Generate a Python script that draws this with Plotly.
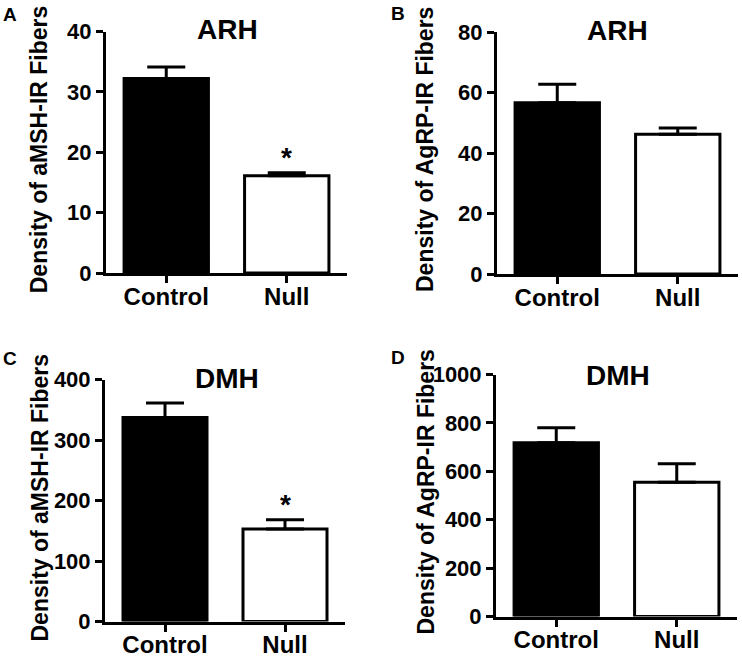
import plotly.graph_objects as go

W, H = 742, 657

groups = ["Control", "Null"]

arh_amsh_mean = [32.2, 16.1]
arh_amsh_sem = [1.9, 0.5]
arh_agrp_mean = [56.6, 46.2]
arh_agrp_sem = [6.1, 2.1]
dmh_amsh_mean = [337, 153]
dmh_amsh_sem = [24, 15]
dmh_agrp_mean = [718, 555]
dmh_agrp_sem = [62, 76]

y_ranges = [40, 80, 400, 1000]
y_dticks = [10, 20, 100, 200]
titles = ["ARH", "ARH", "DMH", "DMH"]
letters = ["A", "B", "C", "D"]
y_titles = ["Density of aMSH-IR Fibers", "Density of AgRP-IR Fibers",
            "Density of aMSH-IR Fibers", "Density of AgRP-IR Fibers"]
significant = [True, False, True, False]

means = [arh_amsh_mean, arh_agrp_mean, dmh_amsh_mean, dmh_agrp_mean]
sems = [arh_amsh_sem, arh_agrp_sem, dmh_amsh_sem, dmh_agrp_sem]

# pixel layout: (x0, x1, y_zero, y_top)
boxes = [(106, 347, 273, 31.5), (497, 738, 274, 32),
         (105, 345, 621.5, 379.5), (496, 737, 616.5, 374.5)]
ytitle_x = [39, 425, 39, 425]
title_pos = [(227, 29), (617, 31), (227, 378), (618, 375)]
letter_pos = [(10, 15), (398, 13), (10, 358), (398, 357)]

FONT = "Liberation Sans, Arial, sans-serif"

fig = go.Figure()
annotations = []

def px(x):
    return x / W

def py(y):
    return 1 - y / H

for i in range(4):
    ax = "" if i == 0 else str(i + 1)
    xa, ya = "x" + ax, "y" + ax
    fig.add_trace(go.Bar(
        x=groups, y=means[i], xaxis=xa, yaxis=ya, width=0.7,
        marker=dict(color=["black", "white"], line=dict(color="black", width=3)),
        error_y=dict(type="data", array=sems[i], arrayminus=[0, 0], symmetric=False,
                     color="black", thickness=3, width=19),
        showlegend=False, hoverinfo="skip",
    ))
    x0, x1, yz, yt = boxes[i]
    axis_common = dict(showline=True, linecolor="black", linewidth=3,
                       ticks="outside", ticklen=7, tickwidth=3, tickcolor="black",
                       showgrid=False, zeroline=False, automargin=False)
    fig.layout["xaxis" + ax] = dict(
        domain=[px(x0), px(x1)], anchor=ya, range=[-0.5, 1.5],
        tickfont=dict(family=FONT, size=24, color="black", weight=700),
        ticklabelstandoff=-7,
        **axis_common)
    fig.layout["yaxis" + ax] = dict(
        domain=[py(yz), py(yt)], anchor=xa, range=[0, y_ranges[i]], dtick=y_dticks[i],
        tickfont=dict(family=FONT, size=22, color="black", weight=700),
        ticklabelstandoff=0,
        **axis_common)
    annotations.append(dict(
        text=y_titles[i], textangle=-90, xref="paper", yref="paper",
        x=px(ytitle_x[i]), y=py((yz + yt) / 2 - 3), xanchor="center", yanchor="middle",
        showarrow=False, font=dict(family=FONT, size=23, color="black", weight=700)))
    annotations.append(dict(
        text=titles[i], xref="paper", yref="paper",
        x=px(title_pos[i][0]), y=py(title_pos[i][1]), xanchor="center", yanchor="middle",
        showarrow=False, font=dict(family=FONT, size=28, color="black", weight=700)))
    annotations.append(dict(
        text=letters[i], xref="paper", yref="paper",
        x=px(letter_pos[i][0]), y=py(letter_pos[i][1]), xanchor="center", yanchor="middle",
        showarrow=False, font=dict(family=FONT, size=19, color="black", weight=700)))
    if significant[i]:
        annotations.append(dict(
            text="*", xref=xa, yref=ya, x=groups[1], y=means[i][1] + sems[i][1],
            xanchor="center", yanchor="bottom", yshift=-2,
            showarrow=False, font=dict(family=FONT, size=28, color="black", weight=700)))

fig.update_layout(
    width=W, height=H, margin=dict(l=0, r=0, t=0, b=0, autoexpand=False),
    paper_bgcolor="white", plot_bgcolor="white",
    annotations=annotations, bargap=0.3,
)

fig.write_html("out.html", config={"displayModeBar": False},
               post_script="document.body.style.margin='0';")
